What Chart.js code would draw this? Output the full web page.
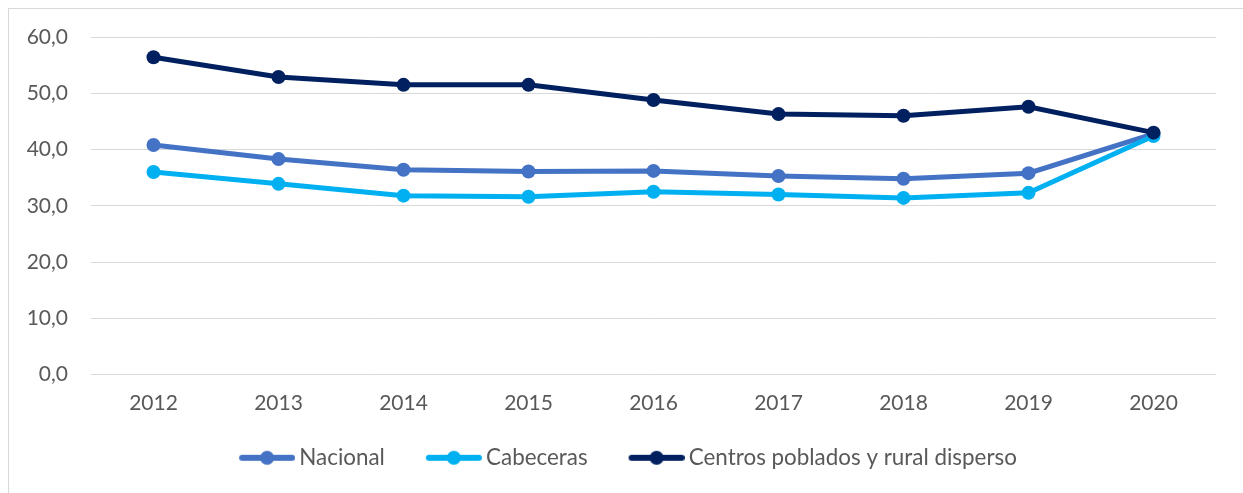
<!doctype html>
<html lang="es">
    <head>
        <meta charset="utf-8" />
        <title>Serie 2012-2020</title>
        <script src="https://cdn.jsdelivr.net/npm/chart.js@4/dist/chart.umd.min.js"></script>
        <style>
            html, body { margin: 0; padding: 0; background: #fff; overflow: hidden; }
            #marco { position: absolute; left: 8px; top: 8px; width: 1250px; height: 500px; border: 1px solid #d9d9d9; }
            #lienzo { position: absolute; left: 0; top: 0; }
        </style>
    </head>
    <body>
        <div id="marco"></div>
        <canvas id="lienzo" width="1243" height="493"></canvas>

        <script>
            // datos
            const anios = ['2012', '2013', '2014', '2015', '2016', '2017', '2018', '2019', '2020'];
            const nacional = [40.8, 38.3, 36.4, 36.1, 36.2, 35.3, 34.8, 35.8, 42.8];
            const cabeceras = [36.0, 33.9, 31.8, 31.6, 32.5, 32.0, 31.4, 32.3, 42.4];
            const centrosPoblados = [56.4, 52.9, 51.5, 51.5, 48.8, 46.3, 46.0, 47.6, 43.0];
            const nombres = ['Nacional', 'Cabeceras', 'Centros poblados y rural disperso'];
            const colores = ['#4472C4', '#00B0F0', '#002060'];

            const sepLeyenda = 28;            // padding de la leyenda
            const anchoIcono = 104 - sepLeyenda; // lienzo del icono, con hueco transparente a la izquierda

            //icono de leyenda: linea con punto en el medio, pegada al borde derecho
            function iconoLeyenda(color) {
                const c = document.createElement('canvas');
                c.width = anchoIcono; c.height = 16;
                const ctx = c.getContext('2d');
                const x0 = anchoIcono - 56;
                ctx.strokeStyle = color;
                ctx.lineWidth = 6;
                ctx.lineCap = 'round';
                ctx.beginPath();
                ctx.moveTo(x0 + 3, 8);
                ctx.lineTo(x0 + 53, 8);
                ctx.stroke();
                ctx.fillStyle = color;
                ctx.beginPath();
                ctx.arc(x0 + 28, 8, 7, 0, Math.PI * 2);
                ctx.fill();
                return c;
            }
            const iconos = colores.map(iconoLeyenda);

            function serie(i, datos, orden) {
                return {
                    label: nombres[i],
                    data: datos,
                    borderColor: colores[i],
                    backgroundColor: colores[i],
                    borderWidth: 5,
                    pointStyle: 'circle',
                    pointRadius: 7,
                    pointHoverRadius: 7,
                    pointBorderWidth: 0,
                    order: orden
                };
            }

            const fuenteEjes = { family: 'Lato, "Open Sans", sans-serif', size: 21, lineHeight: 1 };
            const fuenteLeyenda = { family: 'Lato, "Open Sans", sans-serif', size: 22.4 };

            const grafico = new Chart(document.getElementById('lienzo'), {
                type: 'line',
                data: {
                    labels: anios,
                    datasets: [
                        serie(0, nacional, 2),
                        serie(1, cabeceras, 1),
                        serie(2, centrosPoblados, 0)
                    ]
                },
                options: {
                    responsive: false,
                    animation: false,
                    layout: { padding: { left: 27, top: 37, right: 27, bottom: 14 } },
                    scales: {
                        y: {
                            min: 0,
                            max: 60,
                            ticks: {
                                stepSize: 10,
                                color: '#595959',
                                font: fuenteEjes,
                                padding: 23,
                                callback: v => v.toFixed(1).replace('.', ',')
                            },
                            grid: { color: '#d9d9d9', lineWidth: 1, drawTicks: false },
                            border: { display: false },
                            afterFit: s => { s.width = 64; }
                        },
                        x: {
                            offset: true,
                            ticks: { color: '#595959', font: fuenteEjes, padding: 18 },
                            grid: { display: false, drawTicks: false },
                            border: { display: false },
                            afterFit: s => { s.height = 44; }
                        }
                    },
                    plugins: {
                        legend: {
                            position: 'bottom',
                            labels: {
                                usePointStyle: true,
                                pointStyleWidth: anchoIcono - 14,
                                color: '#595959',
                                font: fuenteLeyenda,
                                padding: sepLeyenda,
                                generateLabels: function (chart) {
                                    return chart.data.datasets.map(function (ds, i) {
                                        return {
                                            text: ds.label,
                                            fillStyle: ds.borderColor,
                                            strokeStyle: ds.borderColor,
                                            fontColor: '#595959',
                                            lineWidth: 0,
                                            pointStyle: iconos[i],
                                            datasetIndex: i
                                        };
                                    });
                                }
                            }
                        },
                        tooltip: { enabled: false }
                    }
                }
            });
        </script>
    </body>
</html>
